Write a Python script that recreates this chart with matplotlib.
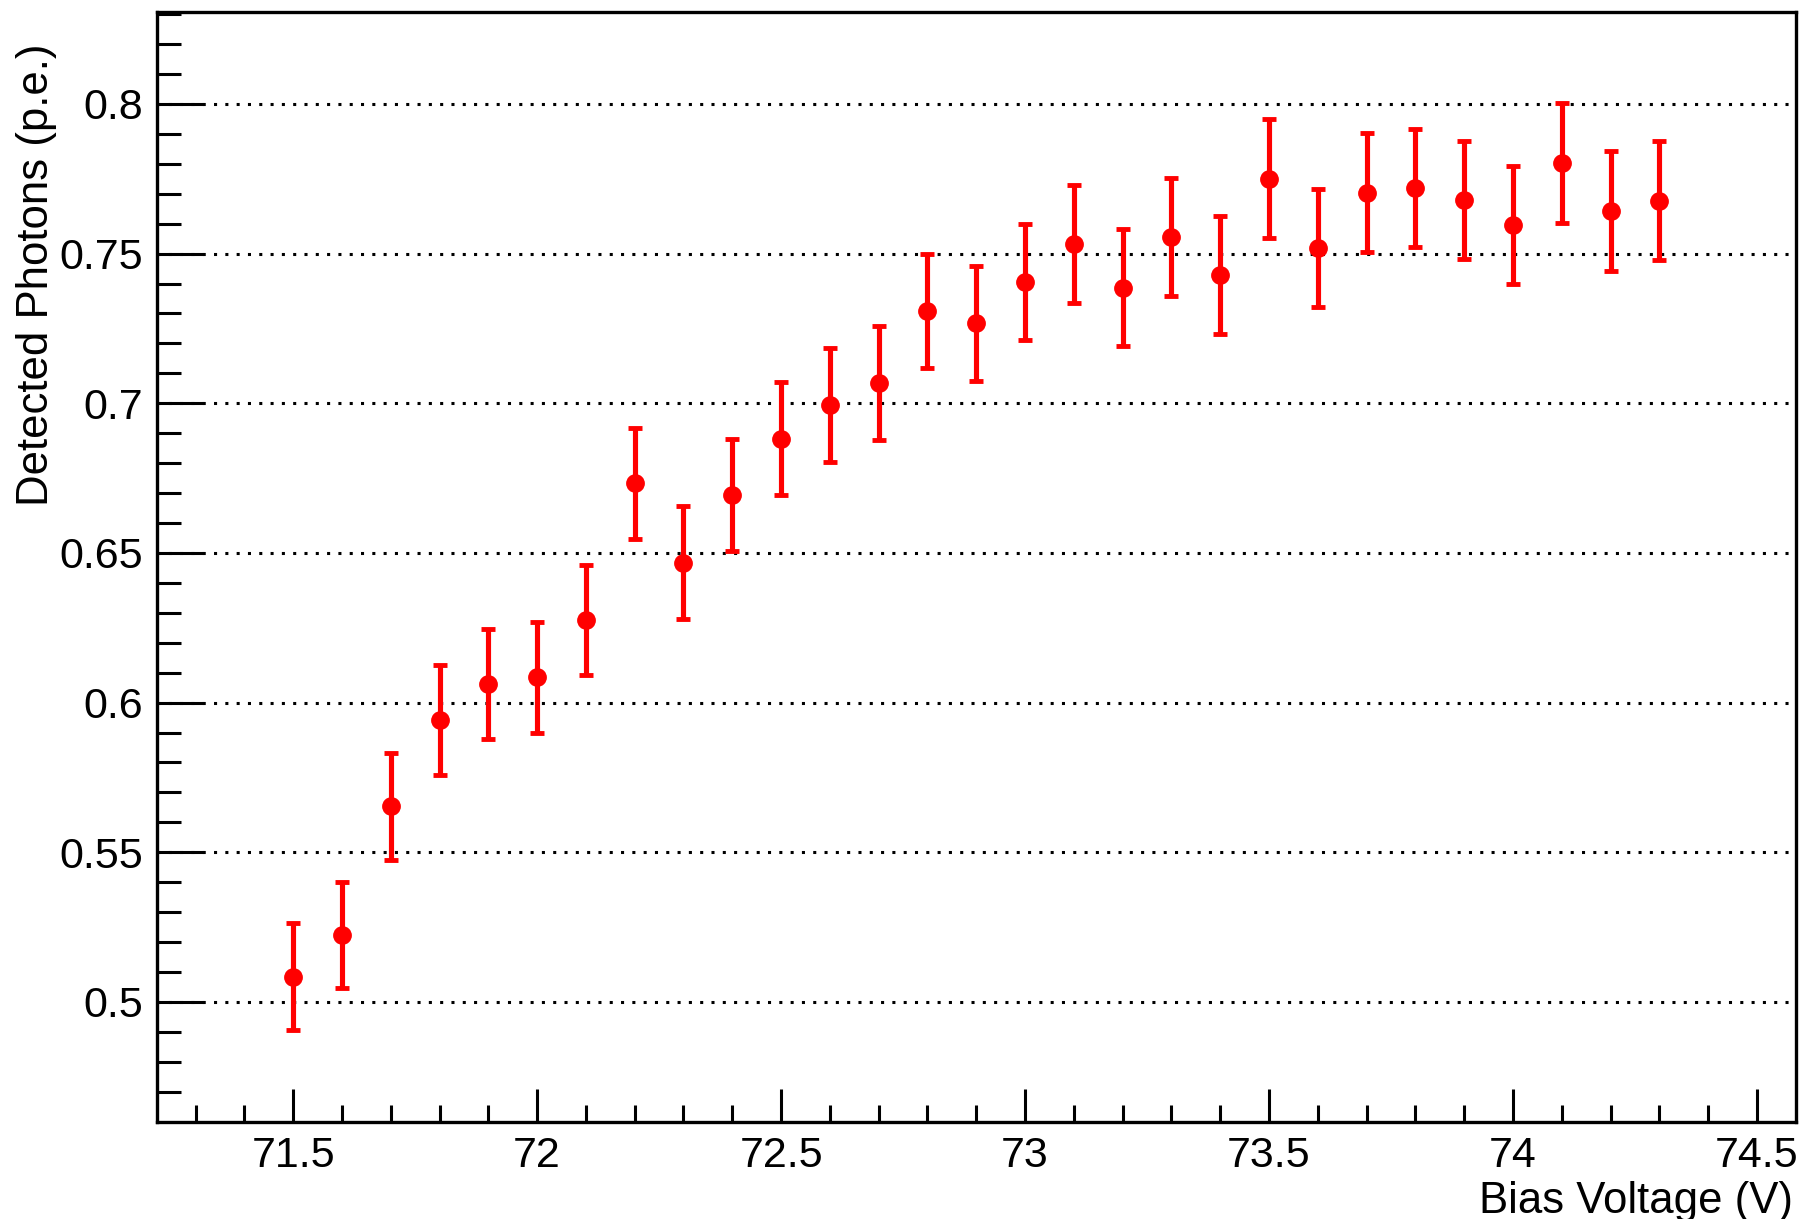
import matplotlib
matplotlib.use("Agg")
import matplotlib.pyplot as plt
import numpy as np

plt.rcParams['font.family'] = ['Liberation Sans', 'DejaVu Sans']

bias_voltage = [71.5, 71.6, 71.7, 71.8, 71.9, 72.0, 72.1, 72.2, 72.3, 72.4,
                72.5, 72.6, 72.7, 72.8, 72.9, 73.0, 73.1, 73.2, 73.3, 73.4,
                73.5, 73.6, 73.7, 73.8, 73.9, 74.0, 74.1, 74.2, 74.3]
detected_pe = [0.5085, 0.5224, 0.5654, 0.5942, 0.6061, 0.6084, 0.6276, 0.6733, 0.6468, 0.6694,
               0.6882, 0.6994, 0.7067, 0.7309, 0.7267, 0.7405, 0.7531, 0.7386, 0.7555, 0.7428,
               0.7750, 0.7520, 0.7704, 0.7719, 0.7679, 0.7594, 0.7802, 0.7643, 0.7677]
pe_error = [0.0178, 0.0178, 0.0179, 0.0184, 0.0184, 0.0184, 0.0184, 0.0186, 0.0188, 0.0186,
            0.0190, 0.0191, 0.0190, 0.0191, 0.0192, 0.0194, 0.0197, 0.0195, 0.0196, 0.0196,
            0.0199, 0.0197, 0.0198, 0.0198, 0.0198, 0.0197, 0.0201, 0.0200, 0.0200]

x_major = [71.5, 72.0, 72.5, 73.0, 73.5, 74.0, 74.5]
x_labels = ['71.5', '72', '72.5', '73', '73.5', '74', '74.5']
y_major = [0.5, 0.55, 0.6, 0.65, 0.7, 0.75, 0.8]
y_labels = ['0.5', '0.55', '0.6', '0.65', '0.7', '0.75', '0.8']

fig = plt.figure(figsize=(18.02, 12.19), dpi=100)
ax = fig.add_axes([157/1802, 1 - 1122/1219, (1796 - 157)/1802, (1122 - 12)/1219])

ax.set_xlim(71.221, 74.58)
ax.set_ylim(0.4599, 0.8307)

for yv in y_major:
    ax.axhline(yv, color='black', lw=2.2, linestyle=(0, (1, 2.7)), dash_capstyle='butt', zorder=1)

ax.errorbar(bias_voltage, detected_pe, yerr=pe_error, fmt='o', color='#ff0000',
            ms=12.5, elinewidth=3.7, capsize=5, capthick=3.5, zorder=3)

ax.set_xticks(x_major)
ax.set_xticklabels(x_labels)
ax.set_yticks(y_major)
ax.set_yticklabels(y_labels)
ax.set_xticks(np.arange(71.3, 74.55, 0.1), minor=True)
ax.set_yticks(np.arange(0.47, 0.831, 0.01), minor=True)

ax.tick_params(axis='x', which='major', direction='in', length=24, width=2.2, labelsize=31, pad=10)
ax.tick_params(axis='x', which='minor', direction='in', length=12, width=2.2)
ax.tick_params(axis='y', which='major', direction='in', length=34, width=2.2, labelsize=31, pad=10)
ax.tick_params(axis='y', which='minor', direction='in', length=17, width=2.2)

for sp in ax.spines.values():
    sp.set_linewidth(2.4)

fig.text(1793/1802, 1 - 1201/1219, 'Bias Voltage (V)', ha='right', va='center', fontsize=31.5)
fig.text(37/1802, 1 - 44/1219, 'Detected Photons (p.e.)', ha='center', va='top',
         rotation=90, fontsize=31.5)

fig.savefig('out.png', dpi=100)
